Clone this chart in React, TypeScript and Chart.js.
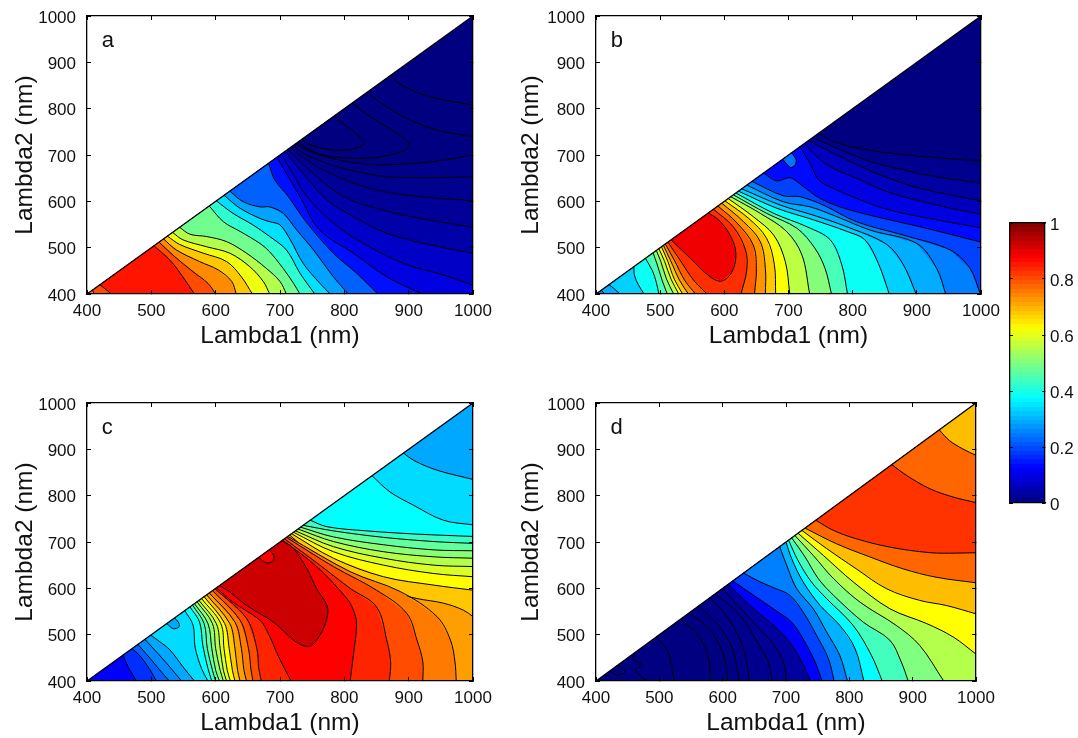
import React, { useEffect, useRef } from "react";
import { Chart, registerables } from "chart.js";

Chart.register(...registerables);

type Pt = number[];
type Band = { v: number; c: Pt[][]; k?: Pt[] };

const axisTicks = [400, 500, 600, 700, 800, 900, 1000];
const xTitle = "Lambda1 (nm)";
const yTitle = "Lambda2 (nm)";
const colorbarRange = [0, 1];
const colorbarTicks = [0, 0.2, 0.4, 0.6, 0.8, 1];

const TRI: Pt[] = [[400, 400], [1000, 400], [1000, 1000]];
const LL: Pt[] = [[400, 400]];
const BR: Pt[] = [[1000, 400], [400, 400]];
const UR: Pt[] = [[1000, 1000]];
const BUR: Pt[] = [[1000, 400], [1000, 1000]];
const B: Pt[] = [[1000, 400]];

const panelABase = 0;
const panelA: Band[] = [
  { v: 0, k: BR, c: [[[871, 871], [882, 857], [908, 838], [944, 822], [1000, 808]]] },
  { v: 0, k: BR, c: [[[835, 835], [866, 804], [908, 772], [949, 752], [1000, 740]]] },
  { v: 0, c: [[[812, 812], [840, 783], [876, 752], [900, 727], [900, 716], [882, 704], [845, 694], [799, 694], [757, 704], [728, 728]]] },
  { v: 0, c: [[[784, 784], [804, 761], [822, 742], [830, 727], [825, 718], [804, 711], [773, 713], [747, 722], [733, 733]]] },
  { v: 0.008, k: BR, c: [[[724, 724], [752, 705], [799, 687], [850, 679], [908, 682], [954, 689], [1000, 700]]] },
  { v: 0.015, k: BR, c: [[[720, 720], [741, 700], [788, 675], [835, 660], [866, 653], [928, 651], [1000, 653]]] },
  { v: 0.025, k: BR, c: [[[716, 716], [741, 690], [773, 664], [830, 632], [892, 614], [1000, 601]]] },
  { v: 0.04, k: BR, c: [[[712, 712], [752, 660], [799, 610], [850, 585], [918, 563], [1000, 544]]] },
  { v: 0.07, k: BR, c: [[[708, 708], [736, 660], [773, 603], [814, 567], [866, 531], [934, 506], [1000, 488]]] },
  { v: 0.095, k: BR, c: [[[702, 702], [721, 657], [742, 610], [783, 553], [825, 513], [892, 466], [954, 441], [1000, 419]]] },
  { v: 0.14, k: LL, c: [[[695, 695], [710, 660], [731, 610], [762, 538], [814, 488], [866, 437], [921, 400]]] },
  { v: 0.22, k: LL, c: [[[682, 682], [692, 646], [713, 610], [742, 553], [783, 488], [819, 445], [852, 400]]] },
  { v: 0.285, k: LL, c: [[[622, 622], [643, 599], [669, 588], [684, 588], [705, 574], [726, 538], [752, 495], [783, 437], [806, 400]]] },
  { v: 0.345, k: LL, c: [[[613, 613], [638, 585], [669, 563], [684, 556], [700, 549], [716, 517], [736, 466], [762, 423], [778, 400]]] },
  { v: 0.42, k: LL, c: [[[601, 601], [627, 574], [658, 549], [684, 524], [710, 495], [731, 445], [754, 400]]] },
  { v: 0.485, k: LL, c: [[[590, 590], [612, 556], [638, 535], [669, 509], [684, 491], [705, 455], [721, 423], [731, 400]]] },
  { v: 0.55, k: LL, c: [[[544, 544], [560, 529], [586, 524], [617, 513], [648, 488], [679, 455], [700, 427], [710, 400]]] },
  { v: 0.61, k: LL, c: [[[533, 533], [549, 517], [586, 502], [622, 488], [653, 459], [674, 427], [684, 400]]] },
  { v: 0.68, k: LL, c: [[[525, 525], [544, 507], [581, 488], [617, 470], [640, 437], [657, 400]]] },
  { v: 0.74, k: LL, c: [[[519, 519], [539, 495], [575, 470], [604, 452], [625, 427], [632, 400]]] },
  { v: 0.8, c: [[[408, 408], [412, 400]], [[512, 512], [536, 481], [565, 448], [588, 423], [600, 400]]] },
  { v: 0.855, c: [[[420, 420], [438, 400]], [[504, 504], [529, 473], [549, 437], [567, 400]]] },
];

const panelBBase = 0;
const panelB: Band[] = [
  { v: 0.015, k: BR, c: [[[747, 747], [770, 729], [812, 714], [858, 704], [931, 694], [1000, 687]]] },
  { v: 0.035, k: BR, c: [[[738, 738], [770, 718], [827, 686], [879, 668], [931, 653], [1000, 639]]] },
  { v: 0.06, k: BR, c: [[[731, 731], [760, 711], [796, 686], [843, 657], [905, 628], [1000, 601]]] },
  { v: 0.095, k: BR, c: [[[725, 725], [747, 693], [770, 671], [806, 650], [853, 621], [931, 592], [1000, 572]]] },
  { v: 0.135, k: BR, c: [[[718, 718], [735, 678], [747, 646], [770, 628], [812, 603], [858, 581], [931, 560], [1000, 543]]] },
  { v: 0.19, k: BR, c: [[[661, 661], [682, 644], [703, 651], [723, 632], [747, 608], [780, 588], [827, 570], [905, 545], [1000, 512]]] },
  { v: 0.25, k: LL, c: [[[643, 643], [692, 612], [718, 610], [754, 592], [806, 556], [879, 527], [952, 495], [983, 455], [999, 400]]] },
  { v: 0.295, c: [[[408, 408], [414, 400]], [[635, 635], [692, 599], [734, 588], [775, 567], [827, 538], [900, 509], [931, 455], [945, 400]]] },
  { v: 0.33, c: [[[420, 420], [428, 412], [437, 400]], [[627, 627], [687, 592], [739, 570], [791, 545], [853, 507], [879, 463], [899, 400]]] },
  { v: 0.385, c: [[[459, 459], [460, 440], [466, 420], [475, 400]], [[622, 622], [682, 585], [739, 560], [791, 535], [819, 517], [840, 466], [857, 400]]] },
  { v: 0.445, c: [[[477, 477], [488, 450], [494, 425], [498, 400]], [[618, 618], [677, 574], [729, 545], [765, 517], [783, 463], [792, 400]]] },
  { v: 0.505, c: [[[489, 489], [495, 465], [503, 430], [511, 400]], [[614, 614], [666, 574], [713, 542], [741, 499], [757, 455], [767, 400]]] },
  { v: 0.56, c: [[[494, 494], [501, 470], [510, 432], [521, 400]], [[610, 610], [656, 574], [697, 535], [721, 484], [733, 400]]] },
  { v: 0.62, c: [[[498, 498], [507, 470], [517, 432], [529, 400]], [[606, 606], [645, 567], [677, 527], [695, 470], [702, 400]]] },
  { v: 0.68, c: [[[502, 502], [512, 470], [522, 432], [535, 400]], [[601, 601], [638, 563], [666, 520], [678, 463], [680, 400]]] },
  { v: 0.73, c: [[[505, 505], [516, 473], [530, 430], [544, 400]], [[596, 596], [630, 556], [656, 513], [664, 455], [664, 400]]] },
  { v: 0.785, c: [[[508, 508], [522, 473], [538, 430], [555, 400]], [[590, 590], [620, 553], [645, 506], [650, 455], [647, 400]]] },
  { v: 0.83, c: [[[512, 512], [531, 473], [552, 430], [573, 400]], [[583, 583], [614, 545], [633, 495], [635, 452], [626, 400]]] },
  { v: 0.89, c: [[[517, 517], [547, 477], [578, 437], [596, 428], [612, 448], [618, 488], [609, 527], [591, 560], [575, 575]]] },
  { v: 0.24, c: [[[691, 691], [703, 673], [710, 678], [712, 689], [705, 705]]] },
];

const panelCBase = 0.125;
const panelC: Band[] = [
  { v: 0.17, k: BUR, c: [[[456, 456], [464, 430], [477, 400]]] },
  { v: 0.22, k: BUR, c: [[[470, 470], [482, 455], [498, 424], [508, 400]]] },
  { v: 0.26, k: BUR, c: [[[479, 479], [498, 449], [513, 424], [528, 400]]] },
  { v: 0.29, k: BUR, c: [[[490, 490], [498, 478], [524, 438], [547, 400]]] },
  { v: 0.34, k: B, c: [[[499, 499], [513, 485], [529, 467], [549, 431], [567, 400]], [[892, 892], [908, 876], [944, 855], [1000, 835]]] },
  { v: 0.375, k: B, c: [[[552, 552], [565, 520], [568, 473], [578, 427], [588, 400]], [[843, 843], [871, 808], [908, 779], [954, 747], [1000, 737]]] },
  { v: 0.43, k: B, c: [[[560, 560], [575, 527], [580, 477], [588, 427], [594, 400]], [[747, 747], [773, 733], [835, 724], [913, 717], [1000, 712]]] },
  { v: 0.47, k: B, c: [[[564, 564], [582, 524], [587, 470], [595, 423], [600, 400]], [[736, 736], [783, 724], [861, 710], [939, 701], [1000, 697]]] },
  { v: 0.51, k: B, c: [[[567, 567], [588, 524], [594, 470], [600, 423], [606, 400]], [[732, 732], [783, 711], [861, 694], [939, 683], [1000, 681]]] },
  { v: 0.55, k: B, c: [[[571, 571], [595, 524], [600, 470], [607, 423], [612, 400]], [[728, 728], [783, 701], [861, 679], [939, 668], [1000, 665]]] },
  { v: 0.59, k: B, c: [[[574, 574], [601, 524], [607, 470], [612, 423], [617, 400]], [[724, 724], [783, 690], [861, 665], [939, 650], [1000, 647]]] },
  { v: 0.625, k: B, c: [[[578, 578], [608, 524], [613, 470], [618, 423], [623, 400]], [[721, 721], [783, 679], [861, 650], [939, 632], [1000, 625]]] },
  { v: 0.68, k: B, c: [[[582, 582], [614, 524], [621, 470], [626, 423], [630, 400]], [[718, 718], [783, 665], [861, 625], [939, 607], [1000, 596]]] },
  { v: 0.72, k: B, c: [[[586, 586], [622, 524], [630, 470], [634, 423], [638, 400]], [[715, 715], [783, 636], [861, 596], [913, 578], [954, 568], [985, 553], [1000, 539]]] },
  { v: 0.755, c: [[[590, 590], [630, 527], [640, 470], [644, 423], [648, 400]], [[712, 712], [809, 636], [887, 593], [944, 539], [965, 488], [972, 441], [974, 400]]] },
  { v: 0.8, c: [[[595, 595], [638, 531], [651, 470], [655, 423], [658, 400]], [[710, 710], [783, 647], [850, 596], [897, 546], [913, 488], [922, 441], [922, 400]]] },
  { v: 0.84, c: [[[599, 599], [648, 535], [664, 470], [667, 427], [671, 400]], [[707, 707], [762, 650], [809, 600], [850, 560], [866, 488], [872, 441], [870, 400]]] },
  { v: 0.875, c: [[[601, 601], [627, 570], [669, 531], [682, 502], [697, 455], [717, 400]], [[704, 704], [757, 647], [804, 578], [814, 553], [819, 524], [814, 455], [809, 400]]] },
  { v: 0.925, c: [[[703, 703], [721, 686], [742, 642], [757, 599], [773, 563], [773, 535], [762, 499], [749, 477], [739, 475], [721, 488], [690, 527], [648, 563], [622, 592], [606, 606]]] },
  { v: 0.875, c: [[[667, 667], [679, 655], [690, 660], [690, 671], [683, 683]]] },
  { v: 0.29, c: [[[524, 524], [534, 513], [543, 517], [542, 527], [536, 536]]] },
];

const panelDBase = 0;
const panelD: Band[] = [
  { v: 0, c: [[[422, 422], [433, 413], [446, 419], [438, 431], [432, 432]]] },
  { v: 0, k: BUR, c: [[[462, 462], [459, 448], [473, 434], [462, 424], [480, 400]]] },
  { v: 0, k: BUR, c: [[[495, 495], [512, 467], [520, 431], [523, 400]]] },
  { v: 0.003, k: BUR, c: [[[533, 533], [557, 506], [572, 474], [579, 441], [581, 400]]] },
  { v: 0.006, k: BUR, c: [[[547, 547], [578, 514], [596, 474], [604, 441], [608, 400]]] },
  { v: 0.01, k: BUR, c: [[[562, 562], [591, 524], [612, 481], [621, 441], [626, 400]]] },
  { v: 0.015, k: BUR, c: [[[580, 580], [609, 535], [630, 481], [638, 441], [642, 400]]] },
  { v: 0.02, k: BUR, c: [[[588, 588], [625, 546], [656, 481], [672, 441], [678, 400]]] },
  { v: 0.03, k: BUR, c: [[[600, 600], [638, 542], [683, 474], [696, 441], [701, 400]]] },
  { v: 0.125, k: BUR, c: [[[609, 609], [643, 563], [683, 517], [706, 484], [725, 441], [739, 400]]] },
  { v: 0.19, k: BUR, c: [[[616, 616], [649, 585], [683, 553], [709, 527], [727, 491], [746, 441], [757, 400]]] },
  { v: 0.25, k: BUR, c: [[[633, 633], [659, 614], [683, 600], [706, 585], [727, 549], [748, 499], [767, 448], [776, 400]]] },
  { v: 0.3, k: BUR, c: [[[690, 690], [701, 650], [717, 599], [743, 556], [764, 506], [785, 455], [797, 400]]] },
  { v: 0.375, k: BUR, c: [[[700, 700], [709, 664], [727, 614], [754, 563], [785, 520], [809, 470], [823, 400]]] },
  { v: 0.44, k: BUR, c: [[[704, 704], [719, 660], [740, 614], [764, 578], [806, 520], [835, 455], [852, 400]]] },
  { v: 0.5, k: BUR, c: [[[709, 709], [730, 668], [751, 621], [775, 585], [822, 527], [864, 488], [882, 441], [893, 400]]] },
  { v: 0.55, k: BUR, c: [[[714, 714], [743, 671], [775, 621], [817, 570], [874, 520], [911, 477], [949, 400]]] },
  { v: 0.625, k: UR, c: [[[719, 719], [759, 671], [806, 614], [864, 556], [922, 524], [964, 495], [1000, 458]]] },
  { v: 0.69, k: UR, c: [[[725, 725], [764, 686], [811, 642], [859, 599], [911, 574], [953, 563], [1000, 545]]] },
  { v: 0.775, c: [[[730, 730], [780, 696], [832, 668], [885, 642], [937, 624], [1000, 612]], [[942, 942], [958, 919], [979, 901], [1000, 887]]] },
  { v: 0.825, c: [[[747, 747], [775, 725], [811, 707], [864, 689], [927, 677], [969, 676], [1000, 677]], [[867, 867], [890, 844], [927, 815], [964, 797], [1000, 785]]] },
];

const diagonal: Pt[] = [[400, 400], [1000, 1000]];
const FONT = "'Liberation Sans', Arial, sans-serif";

function jet(v: number): string {
  const c = (x: number) => Math.round(255 * Math.max(0, Math.min(1, x)));
  const r = c(Math.min(4 * v - 1.5, -4 * v + 4.5));
  const g = c(Math.min(4 * v - 0.5, -4 * v + 3.5));
  const b = c(Math.min(4 * v + 0.5, -4 * v + 2.5));
  return `rgb(${r},${g},${b})`;
}

const toXY = (pts: Pt[]) => pts.map(([x, y]) => ({ x, y }));

function buildDatasets(base: number, bands: Band[]) {
  const ds: any[] = [];
  const fill = (pts: Pt[], v: number) => ({
    data: toXY(pts),
    showLine: true,
    fill: "shape",
    backgroundColor: jet(v),
    borderWidth: 0,
    pointRadius: 0,
    tension: 0,
  });
  const line = (pts: Pt[], w = 1, tension = 0.35) => ({
    data: toXY(pts),
    showLine: true,
    fill: false,
    borderColor: "#000",
    borderWidth: w,
    pointRadius: 0,
    tension,
  });
  ds.push(fill(TRI, base));
  bands.forEach((b) => {
    const poly = [...b.c[0], ...(b.k || []), ...(b.c[1] ? [...b.c[1]].reverse() : [])];
    ds.push(fill(poly, b.v));
    b.c.forEach((cv) => ds.push(line(cv)));
  });
  ds.push(line(diagonal, 1.3, 0));
  return ds.reverse();
}

const boxAxis = (opts: any) => ({
  type: "linear",
  min: 400,
  max: 1000,
  grid: { drawOnChartArea: false, drawTicks: true, tickLength: -4, color: "#000", lineWidth: 1, z: 1 },
  border: { display: true, color: "#000", width: 1.3, z: 1 },
  ...opts,
});

function tickAt() {
  return (axis: any) => {
    axis.ticks = axisTicks.map((value) => ({ value }));
  };
}

function Panel(props: {
  letter: string;
  base: number;
  bands: Band[];
  left: number;
  right: number;
  top: number;
  bottom: number;
  yTitlePad: number;
}) {
  const ref = useRef<HTMLCanvasElement>(null);
  const { letter, base, bands, left, right, top, bottom, yTitlePad } = props;
  const cssLeft = left - 87;
  const cssTop = top - 16;
  const cssW = right - cssLeft + 24;
  const cssH = bottom - cssTop + 62;
  useEffect(() => {
    const labelPlugin = {
      id: "panelLetter",
      afterDatasetsDraw(chart: any) {
        const { ctx, scales } = chart;
        ctx.save();
        ctx.fillStyle = "#111";
        ctx.font = `22px ${FONT}`;
        ctx.textBaseline = "alphabetic";
        ctx.fillText(letter, scales.x.getPixelForValue(423), scales.y.getPixelForValue(933));
        ctx.restore();
      },
    };
    const chart = new Chart(ref.current!, {
      type: "scatter",
      data: { datasets: buildDatasets(base, bands) },
      plugins: [labelPlugin],
      options: {
        responsive: false,
        animation: false,
        events: [],
        layout: { padding: { left: 0, top: top - cssTop, right: cssW - (right - cssLeft), bottom: 0 } },
        plugins: { legend: { display: false }, tooltip: { enabled: false }, title: { display: false } },
        scales: {
          x: boxAxis({
            position: "bottom",
            afterBuildTicks: tickAt(),
            ticks: {
              color: "#111",
              font: { size: 17, family: FONT },
              padding: 11,
              maxRotation: 0,
              autoSkip: false,
              callback: (v: number) => String(v),
            },
            title: { display: true, text: xTitle, color: "#111", font: { size: 24.5, family: FONT }, padding: { top: 0, bottom: 5 } },
            afterFit(s: any) {
              s.height = cssH - (bottom - cssTop);
              s.paddingLeft = 0;
              s.paddingRight = 0;
            },
          }),
          y: boxAxis({
            position: "left",
            afterBuildTicks: tickAt(),
            ticks: {
              color: "#111",
              font: { size: 17, family: FONT, lineHeight: 0.25 },
              padding: 15,
              autoSkip: false,
              callback: (v: number) => ["", String(v)],
            },
            title: { display: true, text: yTitle, color: "#111", font: { size: 24.5, family: FONT }, padding: { top: yTitlePad, bottom: 0 } },
            afterFit(s: any) {
              s.width = left - cssLeft;
              s.paddingTop = 0;
              s.paddingBottom = 0;
            },
          }),
          x2: boxAxis({
            position: "top",
            afterBuildTicks: tickAt(),
            ticks: { display: false },
            afterFit(s: any) {
              s.height = 0;
              s.paddingLeft = 0;
              s.paddingRight = 0;
            },
          }),
          y2: boxAxis({
            position: "right",
            afterBuildTicks: tickAt(),
            ticks: { display: false },
            afterFit(s: any) {
              s.width = 0;
              s.paddingTop = 0;
              s.paddingBottom = 0;
            },
          }),
        },
      } as any,
    });
    return () => chart.destroy();
  }, []);
  return (
    <canvas
      ref={ref}
      width={cssW}
      height={cssH}
      style={{ position: "absolute", left: cssLeft, top: cssTop, width: cssW, height: cssH }}
    />
  );
}

function Colorbar() {
  const ref = useRef<HTMLCanvasElement>(null);
  const cssLeft = 1000;
  const cssTop = 212;
  const cssW = 78;
  const cssH = 304;
  useEffect(() => {
    const gradient = (ctx: any) => {
      const area = ctx.chart.chartArea;
      if (!area) return "#000";
      const g = ctx.chart.ctx.createLinearGradient(0, area.bottom, 0, area.top);
      for (let i = 0; i < 64; i++) {
        const col = jet((i + 0.5) / 64);
        g.addColorStop(i / 64, col);
        g.addColorStop((i + 1) / 64, col);
      }
      return g;
    };
    const yAxis = (opts: any) => ({
      type: "linear",
      min: 0,
      max: 1,
      grid: { drawOnChartArea: false, drawTicks: true, tickLength: -3, color: "#000", z: 1 },
      border: { display: true, color: "#000", width: 1.3, z: 1 },
      afterBuildTicks(axis: any) {
        axis.ticks = colorbarTicks.map((value) => ({ value }));
      },
      ...opts,
    });
    const xAxis = (opts: any) => ({
      grid: { display: false },
      border: { display: true, color: "#000", width: 1.3, z: 1 },
      ticks: { display: false },
      ...opts,
    });
    const chart = new Chart(ref.current!, {
      type: "bar",
      data: {
        labels: ["colorbar"],
        datasets: [
          {
            data: [colorbarRange as any],
            backgroundColor: gradient,
            barPercentage: 1,
            categoryPercentage: 1,
            borderWidth: 0,
          },
        ],
      },
      options: {
        responsive: false,
        animation: false,
        events: [],
        layout: { padding: { left: 0, top: 11, right: 0, bottom: 0 } },
        plugins: { legend: { display: false }, tooltip: { enabled: false } },
        scales: {
          x: xAxis({
            position: "bottom",
            afterFit(s: any) {
              s.height = 13;
              s.paddingLeft = 0;
              s.paddingRight = 0;
            },
          }),
          x2: xAxis({
            type: "category",
            labels: ["colorbar"],
            position: "top",
            afterFit(s: any) {
              s.height = 0;
              s.paddingLeft = 0;
              s.paddingRight = 0;
            },
          }),
          y: yAxis({
            position: "right",
            ticks: {
              color: "#111",
              font: { size: 17, family: FONT, lineHeight: 0.25 },
              padding: 8,
              callback: (v: number) => ["", String(v)],
            },
            afterFit(s: any) {
              s.width = 33;
              s.paddingTop = 0;
              s.paddingBottom = 0;
            },
          }),
          y2: yAxis({
            position: "left",
            ticks: { display: false },
            afterFit(s: any) {
              s.width = 10;
              s.paddingTop = 0;
              s.paddingBottom = 0;
            },
          }),
        },
      } as any,
    });
    return () => chart.destroy();
  }, []);
  return (
    <canvas
      ref={ref}
      width={cssW}
      height={cssH}
      style={{ position: "absolute", left: cssLeft, top: cssTop, width: cssW, height: cssH }}
    />
  );
}

export default function App() {
  return (
    <div style={{ position: "absolute", left: 0, top: 0, width: 1078, height: 738, overflow: "hidden", background: "#fff" }}>
      <Panel letter="a" base={panelABase} bands={panelA} left={87} right={473} top={16} bottom={294} yTitlePad={11} />
      <Panel letter="b" base={panelBBase} bands={panelB} left={596} right={981} top={16} bottom={294} yTitlePad={8} />
      <Panel letter="c" base={panelCBase} bands={panelC} left={87} right={473} top={403} bottom={681} yTitlePad={11} />
      <Panel letter="d" base={panelDBase} bands={panelD} left={596} right={976} top={403} bottom={681} yTitlePad={8} />
      <Colorbar />
    </div>
  );
}
